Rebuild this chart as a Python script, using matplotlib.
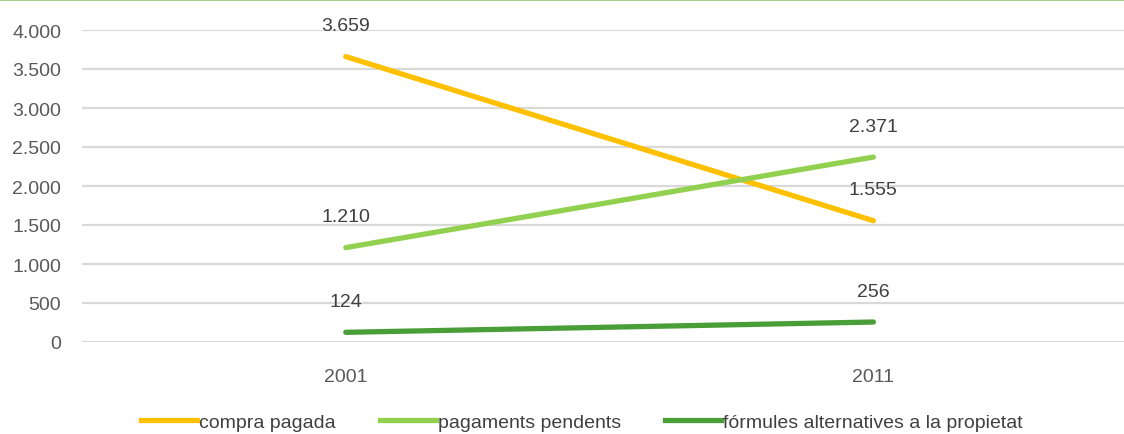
import matplotlib
matplotlib.use('Agg')
import matplotlib.pyplot as plt
from matplotlib.lines import Line2D

plt.rcParams['font.family'] = ['Liberation Sans', 'DejaVu Sans']

years = ['2001', '2011']
compra = [3659, 1555]
pendents = [1210, 2371]
alternatives = [124, 256]
names = ['compra pagada', 'pagaments pendents', 'fórmules alternatives a la propietat']
colors = ['#FFC000', '#92D050', '#4A9E37']
yticks = [0, 500, 1000, 1500, 2000, 2500, 3000, 3500, 4000]

fig = plt.figure(figsize=(11.24, 4.35), dpi=100)
ax = fig.add_axes([82 / 1124, (435 - 343) / 435, 1 - 82 / 1124, 312 / 435])

x = range(len(years))
for vals, c, n in zip([compra, pendents, alternatives], colors, names):
    ax.plot(x, vals, color=c, lw=3.8, solid_capstyle='round', label=n, zorder=3)
    for xi, v in zip(x, vals):
        lab = f'{v:,}'.replace(',', '.')
        ax.annotate(lab, (xi, v), xytext=(0, 31), textcoords='offset pixels',
                    ha='center', va='center', fontsize=14, color='#404040', zorder=4)

ax.set_xlim(-0.5, 1.475)
ax.set_ylim(0, 4000)
ax.set_xticks(list(x))
ax.set_xticklabels(years)
ax.set_yticks(yticks)
ax.set_yticklabels([f'{t:,}'.replace(',', '.') for t in yticks])
ax.tick_params(length=0, labelsize=14, colors='#595959')
ax.tick_params(axis='y', pad=15)
ax.tick_params(axis='x', pad=19)
ax.grid(axis='y', color='#D9D9D9', lw=1.6)
ax.set_axisbelow(True)
for s in ax.spines.values():
    s.set_visible(False)

# thin green rule along the top edge
fig.add_artist(Line2D([0, 1], [0.998, 0.998], transform=fig.transFigure, color='#A9D18E', lw=1.5))

handles = [Line2D([], [], color=c, lw=3.8) for c in colors]
fig.legend(handles, names, loc='center', bbox_to_anchor=(582 / 1124, 1 - 423 / 435),
           ncol=3, frameon=False, fontsize=14, handlelength=2.9, handletextpad=0.1,
           columnspacing=2.25, labelcolor='#404040')

fig.savefig('out.png', dpi=100)
